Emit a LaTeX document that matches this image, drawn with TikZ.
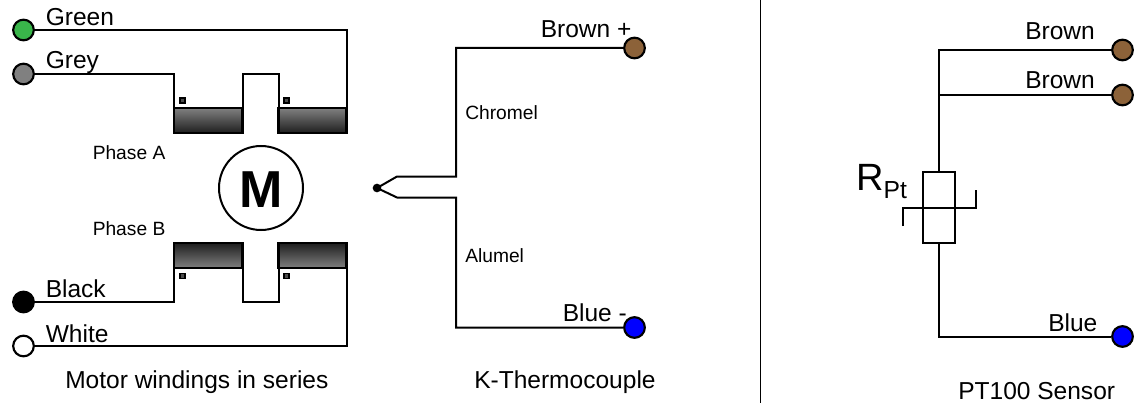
\documentclass[tikz,border=0pt]{standalone}
\usepackage{fontspec}
\setmainfont{Liberation Sans}
\definecolor{termgreen}{HTML}{39B54A}
\definecolor{termgrey}{HTML}{808080}
\definecolor{termbrown}{HTML}{8C6239}
\definecolor{termblue}{HTML}{0000FF}
\begin{document}
\begin{tikzpicture}[x=0.75pt,y=-0.75pt,
  wire/.style={line width=1.5pt,line join=miter},
  term/.style={circle,draw=black,line width=1.6pt,minimum size=15.5pt,inner sep=0pt},
  coilup/.style={draw=black,line width=1.6pt,top color=termgrey,bottom color=black!88},
  coildown/.style={draw=black,line width=1.6pt,top color=black!88,bottom color=termgrey},
  pol/.style={rectangle,draw=black,fill=black!70,line width=1.2pt,minimum size=3.8pt,inner sep=0pt},
  big/.style={font=\fontsize{18.4pt}{20pt}\selectfont,inner sep=0pt},
  small/.style={font=\fontsize{14.4pt}{16pt}\selectfont,inner sep=0pt}]
\useasboundingbox (0,0) rectangle (1134,403);
% motor terminals
\node[term,fill=termgreen] (green) at (23.5,30) {};
\node[term,fill=termgrey] (grey) at (23.5,74) {};
\node[term,fill=black] (black) at (23.5,302) {};
\node[term,fill=white] (white) at (23.5,346) {};
% coils
\path[coilup] (174,108) rectangle (242.5,133);
\path[coilup] (278.5,108) rectangle (346.5,133);
\path[coildown] (174,243) rectangle (242.5,268);
\path[coildown] (278.5,243) rectangle (346.5,268);
\coordinate (a1) at (174,108); \coordinate (a2) at (242.5,108);
\coordinate (a3) at (278.5,108); \coordinate (a4) at (346.5,108);
\coordinate (b1) at (174,268); \coordinate (b2) at (242.5,268);
\coordinate (b3) at (278.5,268); \coordinate (b4) at (346.5,268);
\draw[wire] (green) -- (346.5,30) -- (a4);
\draw[wire] (grey) -- (174,74) -- (a1);
\draw[wire] (a2) -- (242.5,74) -- (278.5,74) -- (a3);
\draw[wire] (black) -- (174,302) -- (b1);
\draw[wire] (b2) -- (242.5,302) -- (278.5,302) -- (b3);
\draw[wire] (white) -- (346.5,346) -- (b4);
\node[pol] (d1) at (182.5,100.5) {};
\node[pol] (d2) at (286.5,100.5) {};
\node[pol] (d3) at (182.5,276) {};
\node[pol] (d4) at (286.5,276) {};
\node[circle,draw=black,line width=1.5pt,minimum size=63pt,inner sep=0pt] (motor) at (261,188) {};
\node[anchor=base,inner sep=0pt,font=\fontsize{39pt}{40pt}\selectfont\bfseries] (mlabel) at (261.5,207) {M};
\node[big,anchor=base west] (tgreen) at (45.5,25.5) {Green};
\node[big,anchor=base west] (tgrey) at (45.5,68.5) {Grey};
\node[big,anchor=base west] (tblack) at (45.5,297) {Black};
\node[big,anchor=base west] (twhite) at (45.5,342) {White};
\node[small,anchor=base west] (pa) at (92.5,159) {Phase A};
\node[small,anchor=base west] (pb) at (92.5,235.5) {Phase B};
\node[big,anchor=base west] (cap1) at (65,388.5) {Motor windings in series};
% thermocouple
\node[circle,fill=black,minimum size=6.5pt,inner sep=0pt] (tj) at (377,188) {};
\node[term,fill=termbrown] (tcb) at (634.5,48) {};
\node[term,fill=termblue] (tcm) at (634.5,327.5) {};
\draw[wire] (tj.center) -- (397,176.5) -- (456,176.5) -- (456,48) -- (tcb);
\draw[wire] (tj.center) -- (397,197.5) -- (456,197.5) -- (456,327.5) -- (tcm);
\node[big,anchor=base west] (tcbl) at (540.5,37.5) {Brown +};
\node[big,anchor=base west] (tcml) at (562.5,321.5) {Blue -};
\node[small,anchor=base west] (chr) at (465,119) {Chromel};
\node[small,anchor=base west] (alu) at (465,262.5) {Alumel};
\node[big,anchor=base west] (cap2) at (474,388.5) {K-Thermocouple};
% divider
\coordinate (dtop) at (760,0); \coordinate (dbot) at (760,403);
\draw[line width=0.75pt] (dtop) -- (dbot);
% PT100
\node[term,fill=termbrown] (p1) at (1122.5,50) {};
\node[term,fill=termbrown] (p2) at (1122.5,95) {};
\node[term,fill=termblue] (p3) at (1122.5,336.5) {};
\node[rectangle,draw=black,line width=1.5pt,minimum width=24pt,minimum height=53pt,inner sep=0pt] (rpt) at (939,207.5) {};
\coordinate (rail) at (939,95);
\draw[wire] (p1) -- (939,50) -- (rpt.north);
\draw[wire] (p2) -- (rail);
\draw[wire] (rpt.south) -- (939,336.5) -- (p3);
\draw[wire] (903,226) -- (903,208) -- (976,208) -- (976,190);
\node[big,anchor=base west] (pl1) at (1025,39.5) {Brown};
\node[big,anchor=base west] (pl2) at (1025,88.5) {Brown};
\node[big,anchor=base west] (pl3) at (1048,331) {Blue};
\node[anchor=base west,inner sep=0pt,font=\fontsize{28.5pt}{30pt}\selectfont] (rlabel) at (856,190) {R\raisebox{-0.22em}{\fontsize{18.5pt}{20pt}\selectfont Pt}};
\node[big,anchor=base west] (cap3) at (958,399) {PT100 Sensor};
\end{tikzpicture}
\end{document}
